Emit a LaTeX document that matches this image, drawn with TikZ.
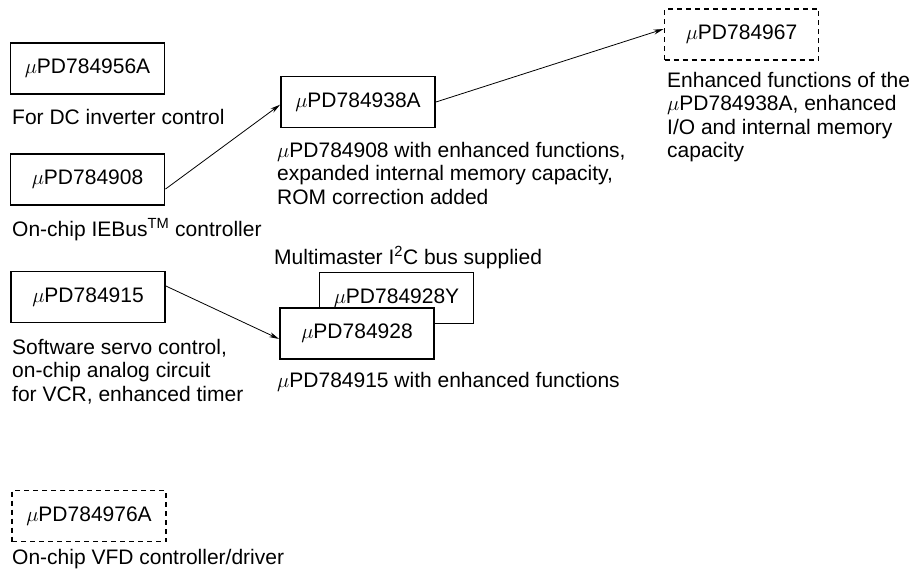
\documentclass[tikz,border=0pt]{standalone}
\usepackage{fontspec}
\setmainfont{Liberation Sans}
\usetikzlibrary{arrows.meta}
\newcommand{\mup}{$\mu$PD}
\begin{document}
\begin{tikzpicture}[x=1pt,y=-1pt,
  every node/.style={font=\fontsize{21}{23.3}\selectfont},
  chip/.style={draw, line width=1.9pt, minimum width=154pt, minimum height=51pt, inner sep=0pt},
  planned/.style={chip, dash pattern=on 5pt off 4pt},
  front/.style={chip, fill=white},
  desc/.style={anchor=north west, align=left, inner sep=0pt},
  conn/.style={-{Stealth[length=10pt,width=5pt]}, line width=0.8pt}
]
\useasboundingbox (0,0) rectangle (914,576);
% boxes
\node[chip] (b956) at (87.5,68.5) {\mup784956A};
\node[chip] (b908) at (87.5,179.5) {\mup784908};
\node[chip] (b938) at (358,102) {\mup784938A};
\node[planned] (b967) at (741.5,34.5) {\mup784967};
\node[chip] (b915) at (88,297) {\mup784915};
\node[chip] (b928y) at (396.5,298) {\mup784928Y};
\node[front] (b928) at (357,333.5) {\mup784928};
\node[planned] (b976) at (89,516) {\mup784976A};
% labels
\node[desc] (l956) at (12,109.2) {For DC inverter control};
\node[desc] (l908) at (12,218.2) {On-chip IEBus\textsuperscript{TM} controller};
\node[desc] (l938) at (277,142.2) {\mup784908 with enhanced functions,\\expanded internal memory capacity,\\ROM correction added};
\node[desc] (l967) at (667,72.2) {Enhanced functions of the\\\mup784938A, enhanced\\I/O and internal memory\\capacity};
\node[desc] (l928y) at (274,246.2) {Multimaster I\textsuperscript{2}C bus supplied};
\node[desc] (l915) at (12,339.2) {Software servo control,\\on-chip analog circuit\\for VCR, enhanced timer};
\node[desc] (l928) at (277,372.2) {\mup784915 with enhanced functions};
\node[desc] (l976) at (12,549.2) {On-chip VFD controller/driver};
% connectors
\draw[conn] (b908.-7.7) -- (b938.182.2);
\draw[conn] (b938.east) -- (b967.176.8);
\draw[conn] (b915.8.1) -- (b928.184.8);
\end{tikzpicture}
\end{document}
